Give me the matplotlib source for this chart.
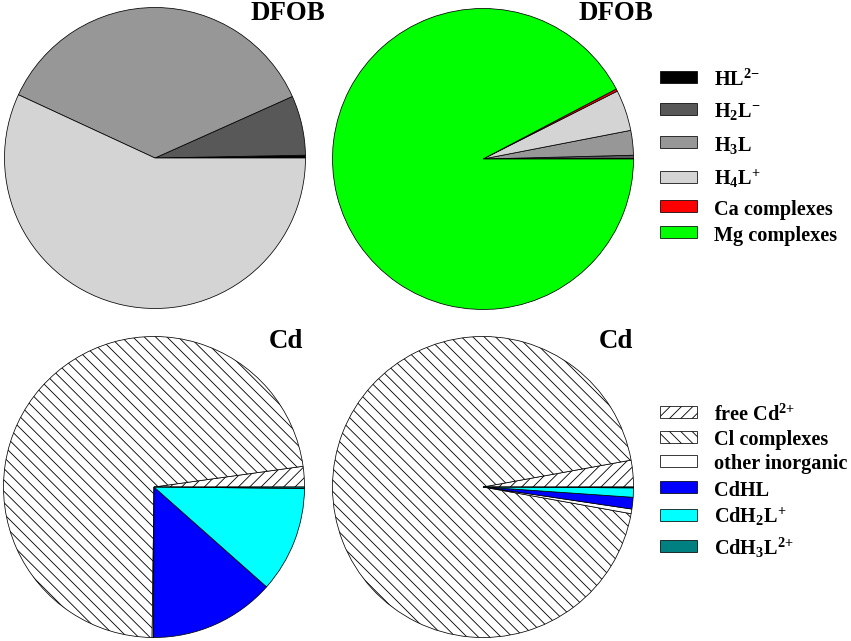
import matplotlib
matplotlib.use('Agg')
import matplotlib.pyplot as plt
from matplotlib.patches import Rectangle

plt.rcParams['font.family'] = ['Liberation Serif', 'DejaVu Serif']
plt.rcParams['font.weight'] = 'bold'
plt.rcParams['mathtext.default'] = 'regular'
plt.rcParams['hatch.linewidth'] = 0.9

# DFOB speciation (%)
dfob_labels = [r'HL$^{2{-}}$', r'H$_2$L$^{{-}}$', r'H$_3$L', r'H$_4$L$^{{+}}$',
               'Ca complexes', 'Mg complexes']
dfob_colors = ['#000000', '#585858', '#979797', '#d4d4d4', '#ff0000', '#00ff00']
dfob_left = [0.3, 6.4, 36.4, 56.9, 0, 0]
dfob_right = [0.05, 0.35, 2.65, 4.4, 0.25, 92.3]

# Cd speciation (%)
cd_labels = [r'free Cd$^{2{+}}$', 'Cl complexes', 'other inorganic', 'CdHL',
             r'CdH$_2$L$^{{+}}$', r'CdH$_3$L$^{2{+}}$']
cd_colors = ['white', 'white', 'white', '#0000ff', '#00ffff', '#008080']
cd_hatches = ['//', '\\\\', '', '', '', '']
cd_left = [2.2, 72.6, 0.15, 13.5, 11.4, 0.15]
cd_right = [2.86, 94.3, 0.5, 1.25, 1.0, 0.09]

W, H = 851, 641
DPI = 68
fig = plt.figure(figsize=(W / DPI, H / DPI), dpi=DPI)


def pie_axes(cx, cy, r=150.5):
    ax = fig.add_axes([(cx - r) / W, (H - cy - r) / H, 2 * r / W, 2 * r / H])
    return ax


def draw_pie(ax, vals, colors, hatches=None):
    idx = [i for i, v in enumerate(vals) if v > 0]
    v = [vals[i] for i in idx]
    c = [colors[i] for i in idx]
    h = [hatches[i] for i in idx] if hatches else None
    ax.pie(v, colors=c, hatch=h, startangle=0, counterclock=True,
           wedgeprops=dict(edgecolor='black', linewidth=0.8))
    ax.set_xlim(-1.0, 1.0)
    ax.set_ylim(-1.0, 1.0)
    ax.set_aspect('equal')
    ax.axis('off')


draw_pie(pie_axes(155, 158), dfob_left, dfob_colors)
draw_pie(pie_axes(483, 159), dfob_right, dfob_colors)
draw_pie(pie_axes(154, 487), cd_left, cd_colors, cd_hatches)
draw_pie(pie_axes(483, 487), cd_right, cd_colors, cd_hatches)

# panel titles
tfs = 28.5
for x, y, t in [(325, 20, 'DFOB'), (653, 20, 'DFOB'), (303, 348, 'Cd'), (633, 348, 'Cd')]:
    fig.text(x / W, 1 - y / H, t, ha='right', va='baseline', fontsize=tfs,
             fontweight='bold')

# legends
lfs = 21.5


def legend(labels, colors, rows, hatches=None):
    for i, (lab, col, yc) in enumerate(zip(labels, colors, rows)):
        hatch = hatches[i] if hatches else None
        fig.patches.append(Rectangle((660 / W, 1 - (yc + 6) / H), 37 / W, 12 / H,
                                     facecolor=col, edgecolor='black', linewidth=0.8,
                                     hatch=hatch, transform=fig.transFigure,
                                     figure=fig))
        fig.text(714 / W, 1 - (yc + 8.5) / H, lab, ha='left', va='baseline',
                 fontsize=lfs, fontweight='bold')


legend(dfob_labels, dfob_colors, [77, 109, 142, 177, 206, 232])
legend(cd_labels, cd_colors, [412, 437, 461, 487, 515, 546], cd_hatches)

fig.savefig('out.png', dpi=DPI, facecolor='white')
